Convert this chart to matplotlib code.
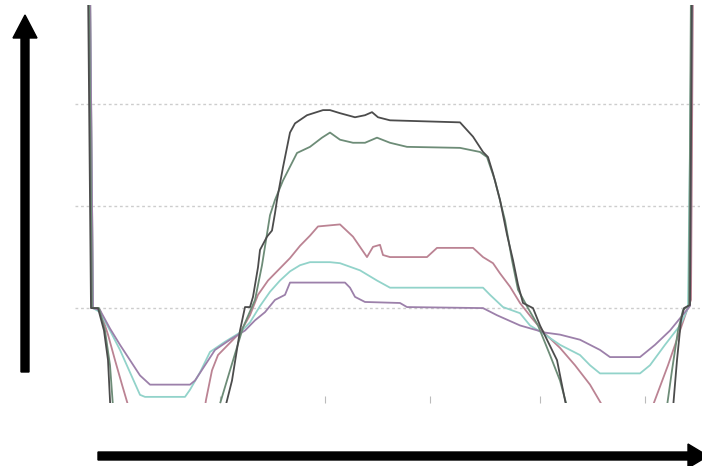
import matplotlib
matplotlib.use('Agg')
import matplotlib.pyplot as plt

# sample index / signal level (grid lines at 0, 100, 200)
dark_x = [13, 16, 23, 29, 33, 36, 45, 125, 147, 157, 165, 170, 175, 178, 183, 185, 192, 197, 200, 202, 208,
          215, 220, 232, 248, 255, 265, 280, 290, 297, 303, 315, 385, 398, 408, 413, 418, 425, 432, 438, 443,
          448, 458, 465, 472, 482, 492, 500, 585, 597, 602, 606, 609, 615, 617]
dark_y = [320, 0, 0, -22, -51, -110, -149, -149, -110, -71, -22, 1, 1, 11, 40, 57, 70, 76, 93, 106, 138,
          172, 181, 189, 194, 194, 191, 187, 189, 192, 187, 184, 182, 168, 153, 148, 132, 106, 72, 47, 23,
          5, 0, -17, -31, -51, -100, -149, -149, -110, -51, -12, 0, 3, 320]

green_x = [14, 17, 24, 30, 35, 39, 50, 120, 140, 155, 168, 180, 187, 195, 200, 208, 222, 235, 247, 255, 265,
           278, 290, 302, 315, 332, 385, 405, 412, 420, 430, 437, 443, 453, 463, 475, 485, 493, 500, 575, 590,
           597, 603, 608, 614, 616]
green_y = [320, 0, 0, -22, -56, -110, -149, -149, -110, -61, -19, 8, 42, 91, 106, 125, 152, 158, 167, 172, 165,
           162, 162, 167, 162, 158, 157, 153, 148, 125, 86, 47, 18, 0, -17, -46, -71, -100, -149, -149, -110,
           -61, -22, -2, 3, 320]

red_x = [15, 18, 25, 33, 40, 47, 53, 57, 125, 131, 137, 143, 153, 165, 175, 183, 193, 205, 215, 225, 235,
         243, 265, 278, 285, 292, 298, 305, 308, 315, 352, 362, 398, 408, 418, 425, 435, 445, 457, 470, 485,
         500, 515, 530, 540, 565, 580, 593, 605, 612, 616, 618]
red_y = [320, 0, -2, -26, -51, -75, -95, -129, -129, -90, -61, -46, -36, -24, -7, 13, 27, 39, 49, 61, 71,
         80, 82, 70, 60, 50, 60, 62, 52, 50, 50, 59, 59, 50, 44, 34, 21, 5, -10, -25, -39,
         -56, -75, -100, -129, -129, -90, -56, -22, -2, 8, 320]

cyan_x = [15, 18, 25, 35, 45, 55, 65, 70, 110, 115, 125, 135, 150, 165, 175, 185, 195, 205, 215, 225, 235,
          255, 265, 285, 302, 315, 408, 415, 428, 445, 455, 470, 485, 505, 515, 525, 565, 575, 590, 605, 613, 617]
cyan_y = [320, 0, -4, -22, -41, -63, -85, -87, -87, -80, -63, -43, -33, -24, -14, 2, 16, 27, 36, 42, 45,
          45, 44, 37, 27, 20, 20, 13, 1, -5, -17, -26, -36, -46, -56, -64, -64, -56, -36, -17, 0, 320]

purple_x = [15, 18, 25, 35, 45, 55, 65, 75, 115, 120, 130, 140, 155, 170, 180, 190, 200, 210, 215, 270, 275,
            280, 290, 325, 332, 408, 422, 445, 470, 485, 505, 525, 535, 565, 580, 595, 610, 615, 617]
purple_y = [320, 0, -2, -20, -36, -51, -66, -75, -75, -71, -56, -41, -31, -22, -12, -4, 8, 13, 25, 25, 20,
            11, 6, 5, 1, 0, -7, -17, -24, -26, -31, -41, -48, -48, -36, -22, -4, 2, 320]

grid_levels = [0, 100, 200]
tick_pos = [145, 250, 355, 465, 570]

series = [
    (red_x, red_y, '#bb8393'),
    (cyan_x, cyan_y, '#92d3ca'),
    (purple_x, purple_y, '#9c80aa'),
    (green_x, green_y, '#6d8c77'),
    (dark_x, dark_y, '#4c4c4c'),
]

fig = plt.figure(figsize=(7.02, 4.66), dpi=100)
W, H = 702, 466

ax = fig.add_axes([75 / W, (H - 403) / H, 625 / W, 398 / H])
for lvl in grid_levels:
    ax.axhline(lvl, color='#cdcdcd', lw=1.0, ls=(0, (2, 2)), zorder=1)
for xs, ys, c in series:
    ax.plot(xs, ys, color=c, lw=1.3, zorder=2)
ax.set_xlim(0, 625)
ax.set_ylim(-93, 297)
for s in ax.spines.values():
    s.set_visible(False)
ax.set_yticks([])
ax.set_xticks(tick_pos)
ax.tick_params(axis='x', direction='in', length=5, color='#bbbbbb', labelbottom=False)

# arrows drawn in pixel space on an overlay
ov = fig.add_axes([0, 0, 1, 1])
ov.set_xlim(0, W)
ov.set_ylim(H, 0)
ov.axis('off')
ov.patch.set_alpha(0)
ov.arrow(25, 372, 0, -357, width=8, head_width=24, head_length=23,
         length_includes_head=True, color='black')
ov.arrow(98, 456, 610, 0, width=8, head_width=24, head_length=20,
         length_includes_head=True, color='black')

fig.savefig('out.png', dpi=100)
